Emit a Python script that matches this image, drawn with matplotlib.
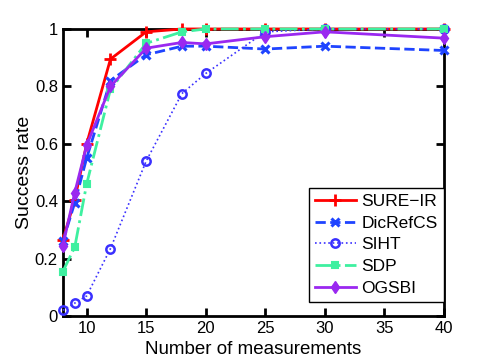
import numpy as np
import matplotlib
matplotlib.use("Agg")
import matplotlib.pyplot as plt
from matplotlib.ticker import FuncFormatter

plt.rcParams['font.family'] = ['Liberation Sans', 'DejaVu Sans']

# measurements (x) and success rates per method
m = [8, 9, 10, 12, 15, 18, 20, 25, 30, 40]
sure_ir = [0.265, 0.405, 0.60, 0.895, 0.99, 1.0, 1.0, 1.0, 1.0, 1.0]
dicrefcs = [0.26, 0.395, 0.55, 0.82, 0.91, 0.94, 0.94, 0.93, 0.94, 0.925]
siht = [0.02, 0.045, 0.07, 0.235, 0.54, 0.775, 0.845, 0.99, 1.0, 1.0]
sdp = [0.155, 0.24, 0.46, 0.79, 0.95, 0.99, 1.0, 1.0, 1.0, 1.0]
ogsbi = [0.245, 0.43, 0.595, 0.80, 0.933, 0.953, 0.948, 0.973, 0.99, 0.968]

fig = plt.figure(figsize=(4.91, 3.62), dpi=100)
ax = fig.add_axes([0.128, 0.127, 0.776, 0.793])

kw = dict(clip_on=False, zorder=3)
ax.plot(m, sure_ir, '-', color='#ff0000', lw=2, marker='+', ms=8, mew=2, label='SURE\u2212IR', **kw)
ax.plot(m, dicrefcs, '--', color='#1f44ff', lw=2, marker='x', ms=6, mew=2.2, label='DicRefCS', **kw)
ax.plot(m, siht, ':', color='#3a30ff', lw=1.2, marker='o', ms=6, mew=1.8,
        mfc='none', label='SIHT', **kw)
ax.plot(m, sdp, '-.', color='#3ef0a0', lw=2, marker='s', ms=4, mew=1.5, label='SDP', **kw)
ax.plot(m, ogsbi, '-', color='#9a28f0', lw=2, marker='d', ms=6, label='OGSBI', **kw)

ax.set_xlim(8, 40)
ax.set_ylim(0, 1)
ax.set_xticks([10, 15, 20, 25, 30, 35, 40])
ax.set_yticks([0, 0.2, 0.4, 0.6, 0.8, 1])
ax.yaxis.set_major_formatter(FuncFormatter(lambda v, p: '%g' % v))
ax.tick_params(direction='in', top=True, right=True, length=6, width=2, labelsize=12)
for s in ax.spines.values():
    s.set_linewidth(2)

ax.set_xlabel('Number of measurements', fontsize=13.5, labelpad=4)
ax.set_ylabel('Success rate', fontsize=14, labelpad=1)

leg = ax.legend(loc='lower right', bbox_to_anchor=(1.0, 0.049), fontsize=12.5,
                fancybox=False, framealpha=1, edgecolor='black', borderpad=0.35,
                labelspacing=0.38, handlelength=2.4, handletextpad=0.3,
                borderaxespad=0)
leg.get_frame().set_linewidth(1)
leg.set_zorder(5)

fig.savefig('out.png', dpi=100)
